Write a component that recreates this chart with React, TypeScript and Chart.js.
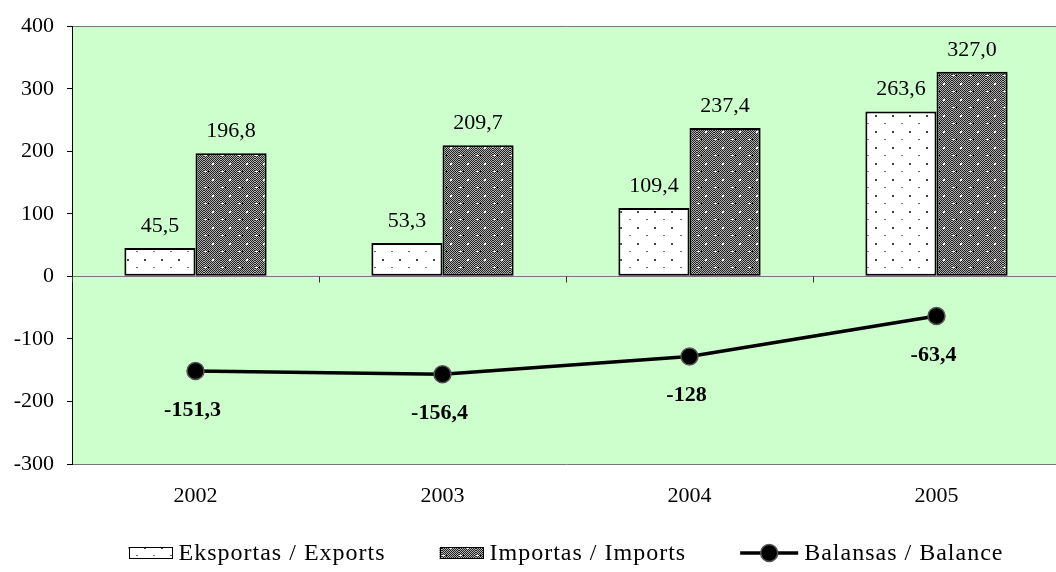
import React, { useEffect, useRef } from "react";
import { Chart, registerables } from "chart.js";

Chart.register(...registerables);

const categories = ["2002", "2003", "2004", "2005"];
const exportsData = [45.5, 53.3, 109.4, 263.6];
const importsData = [196.8, 209.7, 237.4, 327.0];
const balanceData = [-151.3, -156.4, -128, -63.4];
const balanceLabels = ["-151,3", "-156,4", "-128", "-63,4"];
const seriesNames = ["Eksportas / Exports", "Importas / Imports", "Balansas / Balance"];
const yMin = -300;
const yMax = 400;
const yStep = 100;

const SERIF = "'Liberation Serif', 'Times New Roman', serif";

function makeExportsPattern(ctx: CanvasRenderingContext2D): CanvasPattern | string {
  const c = document.createElement("canvas");
  c.width = 17;
  c.height = 16;
  const g = c.getContext("2d")!;
  g.fillStyle = "#ffffff";
  g.fillRect(0, 0, 17, 16);
  g.fillStyle = "#444444";
  g.fillRect(8, 3, 2, 2);
  g.fillStyle = "#777777";
  g.fillRect(0, 11, 2, 1);
  return ctx.createPattern(c, "repeat") || "#fff";
}

function makeImportsPattern(ctx: CanvasRenderingContext2D): CanvasPattern | string {
  const c = document.createElement("canvas");
  c.width = 17;
  c.height = 16;
  const g = c.getContext("2d")!;
  for (let y = 0; y < 16; y++) {
    for (let x = 0; x < 17; x++) {
      g.fillStyle = (x + y) % 2 === 0 ? "#222222" : "#b0b0b0";
      g.fillRect(x, y, 1, 1);
    }
  }
  g.fillStyle = "#ffffff";
  g.fillRect(8, 3, 2, 2);
  g.fillRect(0, 11, 3, 1);
  g.fillStyle = "#000000";
  g.fillRect(4, 11, 1, 1);
  g.fillRect(13, 11, 1, 1);
  return ctx.createPattern(c, "repeat") || "#808080";
}

export default function App() {
  const ref = useRef<HTMLCanvasElement | null>(null);

  useEffect(() => {
    const canvas = ref.current!;
    const ctx = canvas.getContext("2d")!;
    const expPattern = makeExportsPattern(ctx);
    const impPattern = makeImportsPattern(ctx);

    const bgPlugin = {
      id: "plotBg",
      beforeDraw(chart: any) {
        const { ctx, chartArea } = chart;
        ctx.save();
        ctx.fillStyle = "#CCFFCC";
        ctx.fillRect(chartArea.left, chartArea.top, chartArea.right - chartArea.left, chartArea.bottom - chartArea.top);
        ctx.restore();
      },
    };

    const catTicksPlugin = {
      id: "catTicks",
      afterDatasetsDraw(chart: any) {
        const { ctx } = chart;
        const xs = chart.scales.x;
        const ys = chart.scales.y;
        const y0 = Math.round(ys.getPixelForValue(0)) + 0.5;
        const step = xs.getPixelForValue(1) - xs.getPixelForValue(0);
        ctx.save();
        ctx.strokeStyle = "#333";
        ctx.lineWidth = 1;
        for (let i = 0; i <= categories.length; i++) {
          const x = Math.round(xs.getPixelForValue(0) - step / 2 + i * step) + 0.5;
          ctx.beginPath();
          ctx.moveTo(x, y0);
          ctx.lineTo(x, y0 + 6);
          ctx.stroke();
        }
        ctx.restore();
      },
    };

    const labelsPlugin = {
      id: "valueLabels",
      afterDraw(chart: any) {
        const { ctx } = chart;
        ctx.save();
        ctx.fillStyle = "#000";
        ctx.textAlign = "center";
        ctx.textBaseline = "middle";
        ctx.font = `22px ${SERIF}`;
        [0, 1].forEach((di) => {
          const meta = chart.getDatasetMeta(di);
          const data = di === 0 ? exportsData : importsData;
          meta.data.forEach((el: any, i: number) => {
            ctx.fillText(data[i].toFixed(1).replace(".", ","), el.x, el.y - 22);
          });
        });
        ctx.font = `bold 22px ${SERIF}`;
        const lm = chart.getDatasetMeta(2);
        lm.data.forEach((el: any, i: number) => {
          ctx.fillText(balanceLabels[i], el.x - 3, el.y + 39);
        });
        ctx.restore();
      },
    };

    const legendPlugin = {
      id: "customLegend",
      afterDraw(chart: any) {
        const { ctx, chartArea } = chart;
        ctx.save();
        ctx.font = `24px ${SERIF}`;
        try {
          (ctx as any).letterSpacing = "1px";
        } catch (e) {}
        const boxW = 44;
        const lineW = 58;
        const gap = 6;
        const itemGap = 54;
        const widths = seriesNames.map((n) => ctx.measureText(n).width);
        const symW = [boxW, boxW, lineW];
        let total = 0;
        for (let i = 0; i < 3; i++) total += symW[i] + gap + widths[i];
        total += itemGap * 2;
        let x = (chartArea.left + chartArea.right) / 2 - total / 2;
        const cy = 553;
        for (let i = 0; i < 3; i++) {
          if (i < 2) {
            ctx.fillStyle = i === 0 ? expPattern : impPattern;
            ctx.fillRect(x, cy - 6, boxW, 12);
            ctx.strokeStyle = "#000";
            ctx.lineWidth = 1;
            ctx.strokeRect(Math.round(x) + 0.5, cy - 6 + 0.5, boxW - 1, 11);
          } else {
            ctx.strokeStyle = "#000";
            ctx.lineWidth = 3.5;
            ctx.beginPath();
            ctx.moveTo(x, cy);
            ctx.lineTo(x + lineW, cy);
            ctx.stroke();
            ctx.beginPath();
            ctx.arc(x + lineW / 2, cy, 8.5, 0, Math.PI * 2);
            ctx.fillStyle = "#000";
            ctx.fill();
            ctx.lineWidth = 1.5;
            ctx.strokeStyle = "#555";
            ctx.stroke();
          }
          x += symW[i] + gap;
          ctx.fillStyle = "#000";
          ctx.textAlign = "left";
          ctx.textBaseline = "middle";
          ctx.fillText(seriesNames[i], x, cy + 1);
          x += widths[i] + itemGap;
        }
        ctx.restore();
      },
    };

    const chart = new Chart(canvas, {
      type: "bar",
      data: {
        labels: categories,
        datasets: [
          {
            type: "bar",
            label: seriesNames[0],
            data: exportsData,
            backgroundColor: expPattern as any,
            borderColor: "#000",
            borderWidth: 2,
            borderSkipped: false,
            categoryPercentage: 0.576,
            barPercentage: 1.0,
            order: 2,
          },
          {
            type: "bar",
            label: seriesNames[1],
            data: importsData,
            backgroundColor: impPattern as any,
            borderColor: "#000",
            borderWidth: 2,
            borderSkipped: false,
            categoryPercentage: 0.576,
            barPercentage: 1.0,
            order: 2,
          },
          {
            type: "line",
            label: seriesNames[2],
            data: balanceData,
            borderColor: "#000",
            borderWidth: 3.5,
            pointRadius: 8.5,
            pointBackgroundColor: "#000",
            pointBorderColor: "#555",
            pointBorderWidth: 1.5,
            tension: 0,
            order: 1,
          } as any,
        ],
      },
      options: {
        responsive: false,
        animation: false,
        devicePixelRatio: 1,
        layout: { padding: { top: 22, right: 3, bottom: 0, left: 0 } },
        plugins: {
          legend: { display: false },
          tooltip: { enabled: false },
        },
        scales: {
          x: {
            offset: true,
            grid: { display: false, drawTicks: false },
            border: { display: false },
            ticks: {
              color: "#000",
              font: { family: SERIF, size: 22 },
              padding: 19,
              maxRotation: 0,
            },
            afterFit(scale: any) {
              scale.height = 108;
            },
          },
          y: {
            min: yMin,
            max: yMax,
            ticks: {
              stepSize: yStep,
              color: "#000",
              font: { family: SERIF, size: 22 },
              padding: 13,
            },
            grid: {
              color: (c: any) =>
                c.tick && (c.tick.value === 0 || c.tick.value === yMax || c.tick.value === yMin) ? "#777" : "rgba(0,0,0,0)",
              tickColor: "#000",
              tickLength: 5,
              drawTicks: true,
            },
            border: { display: true, color: "#000", width: 1 },
            afterFit(scale: any) {
              scale.width = 72;
            },
          },
        },
      },
      plugins: [bgPlugin, catTicksPlugin, labelsPlugin, legendPlugin],
    });

    return () => chart.destroy();
  }, []);

  return (
    <div style={{ position: "fixed", left: 0, top: 0, width: 1056, height: 572, overflow: "hidden", background: "#fff" }}>
      <canvas ref={ref} width={1070} height={572} style={{ width: 1070, height: 572, display: "block" }} />
    </div>
  );
}
